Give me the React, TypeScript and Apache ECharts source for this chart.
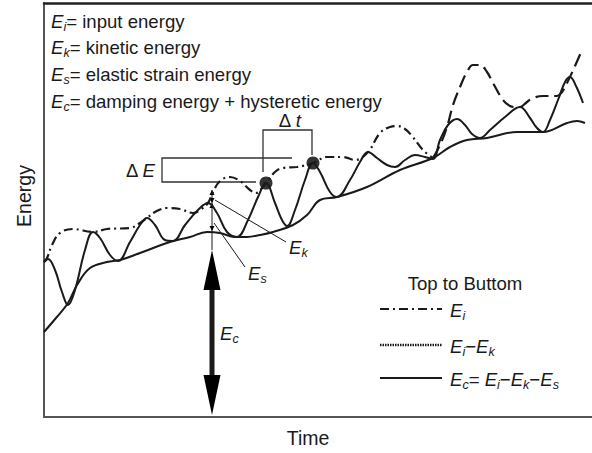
import React, { useEffect, useRef } from "react";
import * as echarts from "echarts";

// Time and energy are in arbitrary units: time 0..548, energy 0..414.
const TIME_MAX = 548;
const ENERGY_MAX = 414;

// Ec = dissipated (damping + hysteretic) energy
const dissipated: number[][] = [
  [0, 85], [12, 99], [24, 114], [33, 132], [46, 149], [63, 155], [76, 157], [96, 164],
  [126, 175], [146, 180], [163, 185], [176, 184], [191, 180], [203, 180], [216, 182],
  [229, 185], [249, 192], [263, 202], [276, 217], [293, 220], [323, 230], [356, 247],
  [389, 259], [406, 270], [423, 277], [443, 279], [473, 285], [499, 285], [523, 294],
  [533, 296], [541, 294],
];

// Ei - Ek
const inputMinusKinetic: number[][] = [
  [0, 155], [4, 158], [11, 147], [18, 125], [24, 112], [31, 127], [41, 167], [49, 185],
  [56, 179], [66, 162], [74, 156], [86, 175], [96, 192], [103, 199], [111, 192], [121, 177],
  [129, 176], [141, 192], [154, 207], [164, 214], [173, 204], [183, 185], [193, 180],
  [204, 197], [214, 220], [222, 234], [231, 214], [238, 197], [243, 191], [251, 207],
  [261, 237], [269, 254], [276, 245], [286, 225], [293, 220], [306, 237], [316, 255],
  [324, 265], [333, 259], [343, 252], [351, 250], [361, 257], [371, 262], [381, 260],
  [389, 258], [396, 277], [404, 292], [413, 298], [421, 292], [428, 283], [436, 279],
  [446, 287], [461, 300], [476, 310], [486, 299], [493, 289], [499, 285], [506, 297],
  [514, 317], [521, 335], [526, 340], [532, 331], [539, 314],
];

// Ei = input energy (dash-dot stretch, then dashed stretch)
const inputEnergy: number[][] = [
  [0, 155], [3, 159], [8, 172], [16, 184], [29, 188], [49, 185], [63, 188], [86, 189],
  [96, 194], [103, 199], [111, 205], [123, 209], [136, 208], [149, 204], [156, 207],
  [164, 214], [169, 225], [176, 236], [186, 240], [196, 236], [206, 227], [212, 224],
  [218, 229], [222, 234], [231, 245], [239, 249], [253, 250], [269, 254], [283, 260],
  [299, 260], [311, 257], [324, 265], [336, 284], [346, 290], [353, 291], [361, 288],
  [368, 281], [379, 267], [389, 259],
];
const inputEnergyLate: number[][] = [
  [389, 259], [396, 272], [403, 290], [409, 312], [416, 330], [423, 345], [429, 352],
  [436, 352], [443, 345], [449, 334], [459, 317], [466, 311], [471, 310], [476, 310],
  [483, 315], [489, 319], [499, 321], [513, 321], [518, 325], [523, 334], [531, 351],
  [538, 367],
];

// Two successive peaks of Ei - Ek marked with dots
const markedPeaks: number[][] = [[222, 234], [269, 254]];

// Annotation geometry (time, energy)
const deltaEBracket = [[248, 259], [118, 259], [118, 235], [212, 235]];
const deltaTBracket = [[219, 245], [219, 287], [268, 287], [268, 262]];
const arrowTime = 168;
const arrowLevels = { ei: 227, eiMinusEk: 214, ec: 186, headTip: 167, headBase: 127, lowBase: 42, lowTip: 2 };
const ekLeader = [[171, 217], [242, 175]];
const esLeader = [[170, 194], [201, 150]];

const FONT = '"Liberation Sans", Arial, Helvetica, sans-serif';
const INK = "#1a1a1a";
const FS = 18.6;

const rich = {
  e: { fontFamily: FONT, fontSize: FS, fontStyle: "italic", color: INK, lineHeight: 24, verticalAlign: "middle" },
  s: { fontFamily: FONT, fontSize: 12.5, fontStyle: "italic", color: INK, lineHeight: 12, verticalAlign: "bottom" },
  t: { fontFamily: FONT, fontSize: FS, color: INK, lineHeight: 24, verticalAlign: "middle" },
};

const definitions = [
  "{e|E}{s|i}{t|= input energy}",
  "{e|E}{s|k}{t|= kinetic energy}",
  "{e|E}{s|s}{t|= elastic strain energy}",
  "{e|E}{s|c}{t|= damping energy + hysteretic energy}",
];
const definitionRows = [21, 47, 74, 101];

const legendRows = [
  { y: 309, label: "{e|E}{s|i}", dash: [9, 4, 2, 4], width: 2.2 },
  { y: 345, label: "{e|E}{s|i}{t|−}{e|E}{s|k}", dash: [1.5, 1], width: 2.6 },
  { y: 378, label: "{e|E}{s|c}{t|= }{e|E}{s|i}{t|−}{e|E}{s|k}{t|−}{e|E}{s|s}", dash: null, width: 2 },
];

function richText(x: number, y: number, text: string, align = "left") {
  return {
    type: "text",
    x,
    y,
    silent: true,
    style: { text, rich, align, verticalAlign: "middle", fill: INK, font: `${FS}px ${FONT}` },
  };
}

export default function App() {
  const ref = useRef<HTMLDivElement>(null);

  useEffect(() => {
    document.body.style.margin = "0";
    const chart = echarts.init(ref.current!, null, { renderer: "svg" });

    const hiddenAxis = {
      axisTick: { show: false },
      axisLabel: { show: false },
      splitLine: { show: false },
    };

    chart.setOption({
      animation: false,
      grid: { left: 44, right: 0, top: 3, bottom: 36 },
      xAxis: [
        {
          type: "value", min: 0, max: TIME_MAX, position: "bottom", ...hiddenAxis,
          axisLine: { show: true, onZero: false, lineStyle: { color: "#555", width: 2 } },
        },
        {
          type: "value", min: 0, max: TIME_MAX, position: "top", ...hiddenAxis,
          axisLine: { show: true, onZero: false, lineStyle: { color: "#222", width: 2.5 } },
        },
      ],
      yAxis: {
        type: "value", min: 0, max: ENERGY_MAX, ...hiddenAxis,
        axisLine: { show: true, onZero: false, lineStyle: { color: "#555", width: 2 } },
      },
      series: [
        {
          name: "Ec", type: "line", data: dissipated, showSymbol: false, smooth: 0.4, silent: true,
          lineStyle: { color: INK, width: 2 },
        },
        {
          name: "Ei-Ek", type: "line", data: inputMinusKinetic, showSymbol: false, smooth: 0.4, silent: true,
          lineStyle: { color: INK, width: 2 },
        },
        {
          name: "Ei", type: "line", data: inputEnergy, showSymbol: false, smooth: 0.4, silent: true,
          lineStyle: { color: INK, width: 2.2, type: [9, 4, 2, 4] },
        },
        {
          name: "Ei late", type: "line", data: inputEnergyLate, showSymbol: false, smooth: 0.4, silent: true,
          lineStyle: { color: INK, width: 2.2, type: [13, 6] },
        },
        {
          name: "peaks", type: "scatter", data: markedPeaks, symbolSize: 13, silent: true,
          itemStyle: { color: "#000" },
        },
      ],
    });

    const p = (pt: number[]) => chart.convertToPixel({ gridIndex: 0 }, pt) as number[];
    const line = (a: number[], b: number[], width: number) => ({
      type: "line", silent: true,
      shape: { x1: a[0], y1: a[1], x2: b[0], y2: b[1] },
      style: { stroke: INK, lineWidth: width },
    });
    const poly = (pts: number[][]) => ({
      type: "polygon", silent: true, shape: { points: pts }, style: { fill: "#000" },
    });

    const L = arrowLevels;
    const ax = p([arrowTime, 0])[0];
    const yy = (v: number) => p([arrowTime, v])[1];
    const smallHead = (tipY: number, dir: number) =>
      poly([[ax, tipY], [ax - 2.5, tipY - dir * 5], [ax + 2.5, tipY - dir * 5]]);

    const graphic: any[] = [];

    // ΔE and Δt brackets
    graphic.push({
      type: "polyline", silent: true, shape: { points: deltaEBracket.map(p) },
      style: { stroke: "#333", lineWidth: 1.3, fill: null },
    });
    graphic.push({
      type: "polyline", silent: true, shape: { points: deltaTBracket.map(p) },
      style: { stroke: "#333", lineWidth: 1.3, fill: null },
    });
    const dE = p([deltaEBracket[2][0] - 7, (deltaEBracket[0][1] + deltaEBracket[2][1]) / 2]);
    graphic.push(richText(dE[0], dE[1], "{t|Δ }{e|E}", "right"));
    const dT = p([(deltaTBracket[0][0] + deltaTBracket[2][0]) / 2 + 2, deltaTBracket[1][1] + 10]);
    graphic.push(richText(dT[0], dT[1], "{t|Δ }{e|t}", "center"));

    // Thin energy-component markers above the big arrow
    graphic.push(line([ax, yy(L.ei)], [ax, yy(L.headTip)], 1));
    graphic.push(smallHead(yy(L.ei), -1));
    graphic.push(smallHead(yy(L.eiMinusEk), 1));
    graphic.push(smallHead(yy(L.eiMinusEk), -1));
    graphic.push(smallHead(yy(L.ec), 1));

    // Big double-headed arrow for Ec
    graphic.push(line([ax, yy(L.headBase) - 2], [ax, yy(L.lowBase) + 2], 5));
    graphic.push(poly([[ax, yy(L.headTip)], [ax - 8.5, yy(L.headBase)], [ax + 8.5, yy(L.headBase)]]));
    graphic.push(poly([[ax, yy(L.lowTip)], [ax - 8.5, yy(L.lowBase)], [ax + 8.5, yy(L.lowBase)]]));

    // Leader lines and labels
    graphic.push(line(p(ekLeader[0]), p(ekLeader[1]), 1));
    graphic.push(line(p(esLeader[0]), p(esLeader[1]), 1));
    const ek = p([ekLeader[1][0] + 3, ekLeader[1][1] - 5]);
    graphic.push(richText(ek[0], ek[1], "{e|E}{s|k}"));
    const es = p([esLeader[1][0] + 3, esLeader[1][1] - 6]);
    graphic.push(richText(es[0], es[1], "{e|E}{s|s}"));
    const ec = p([arrowTime + 8, 84]);
    graphic.push(richText(ec[0], ec[1], "{e|E}{s|c}"));

    // Definitions block
    definitions.forEach((d, i) => graphic.push(richText(51, definitionRows[i], d)));

    // Legend
    graphic.push({
      type: "text", x: 465, y: 283, silent: true,
      style: { text: "Top to Buttom", align: "center", verticalAlign: "middle", fill: INK, font: `${FS}px ${FONT}` },
    });
    legendRows.forEach((r) => {
      graphic.push({
        type: "line", silent: true,
        shape: { x1: 380, y1: r.y, x2: 442, y2: r.y },
        style: { stroke: INK, lineWidth: r.width, lineDash: r.dash || undefined },
      });
      graphic.push(richText(450, r.y + 1, r.label));
    });

    // Axis names
    graphic.push({
      type: "text", x: 308, y: 438, silent: true,
      style: { text: "Time", align: "center", verticalAlign: "middle", fill: INK, font: `19.5px ${FONT}` },
    });
    graphic.push({
      type: "text", x: 24, y: 196, rotation: Math.PI / 2, silent: true,
      style: { text: "Energy", align: "center", verticalAlign: "middle", fill: INK, font: `19.5px ${FONT}` },
    });

    chart.setOption({ graphic });

    return () => chart.dispose();
  }, []);

  return <div ref={ref} style={{ width: 592, height: 453 }} />;
}
